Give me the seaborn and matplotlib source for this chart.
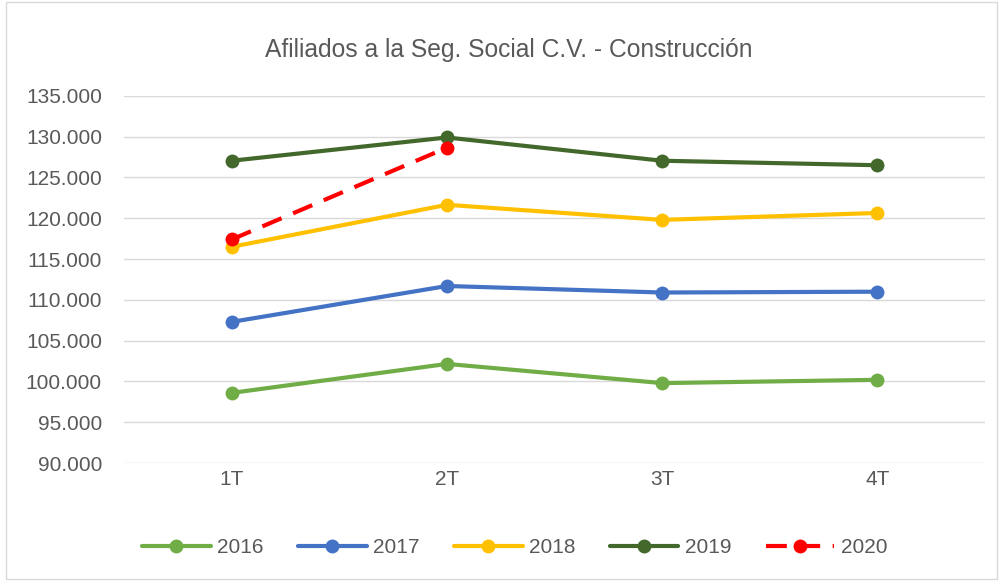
import matplotlib
matplotlib.use("Agg")
import matplotlib.pyplot as plt
from matplotlib.ticker import FuncFormatter
import pandas as pd
import seaborn as sns

quarters = ["1T", "2T", "3T", "4T"]
afiliados_2016 = [98600, 102150, 99800, 100200]
afiliados_2017 = [107300, 111700, 110900, 111000]
afiliados_2018 = [116500, 121650, 119800, 120650]
afiliados_2019 = [127050, 129900, 127050, 126500]
afiliados_2020 = [117400, 128650]

years = ["2016", "2017", "2018", "2019", "2020"]
colors = ["#70AD47", "#4472C4", "#FFC000", "#43682B", "#FF0000"]

series = [afiliados_2016, afiliados_2017, afiliados_2018, afiliados_2019, afiliados_2020]
rows = []
for year, values in zip(years, series):
    for q, v in zip(quarters, values):
        rows.append({"trimestre": q, "afiliados": v, "year": year})
df = pd.DataFrame(rows)

sns.set_style("white")
plt.rcParams["font.family"] = ["Liberation Sans", "DejaVu Sans"]

fig = plt.figure(figsize=(10.01, 5.81), dpi=100)
ax = fig.add_axes([0.124, 0.203, 0.860, 0.632])

sns.lineplot(data=df, x="trimestre", y="afiliados", hue="year", style="year",
             palette=dict(zip(years, colors)),
             markers={y: "o" for y in years},
             dashes={"2016": "", "2017": "", "2018": "", "2019": "", "2020": (5, 3)},
             linewidth=3, markersize=10, markeredgewidth=0, ax=ax)

ax.set_xlim(-0.5, 3.5)
ax.set_ylim(90000, 135000)
ax.set_yticks(range(90000, 135001, 5000))
ax.yaxis.set_major_formatter(FuncFormatter(lambda v, p: f"{int(v):,}".replace(",", ".")))
ax.grid(axis="y", color="#D9D9D9", linewidth=1)
ax.set_axisbelow(True)
sns.despine(ax=ax, left=True, bottom=True)
ax.set_xlabel("")
ax.set_ylabel("")
ax.tick_params(axis="both", colors="#595959", labelsize=15, length=0)
ax.tick_params(axis="y", pad=16)
ax.tick_params(axis="x", pad=5)

handles, labels = ax.get_legend_handles_labels()
ax.legend(handles, labels, loc="center", bbox_to_anchor=(0.514, 0.057),
          bbox_transform=fig.transFigure, ncol=5, frameon=False,
          fontsize=15, labelcolor="#595959", handlelength=3.3,
          columnspacing=1.65, handletextpad=0.3)

fig.suptitle("Afiliados a la Seg. Social C.V. - Construcción", x=0.508, y=0.935,
             fontsize=17.7, color="#595959")
fig.add_artist(plt.Rectangle((0.006, 0.003), 0.99, 0.994, transform=fig.transFigure,
                             fill=False, edgecolor="#D9D9D9", linewidth=1))

fig.savefig("out.png", dpi=100)
